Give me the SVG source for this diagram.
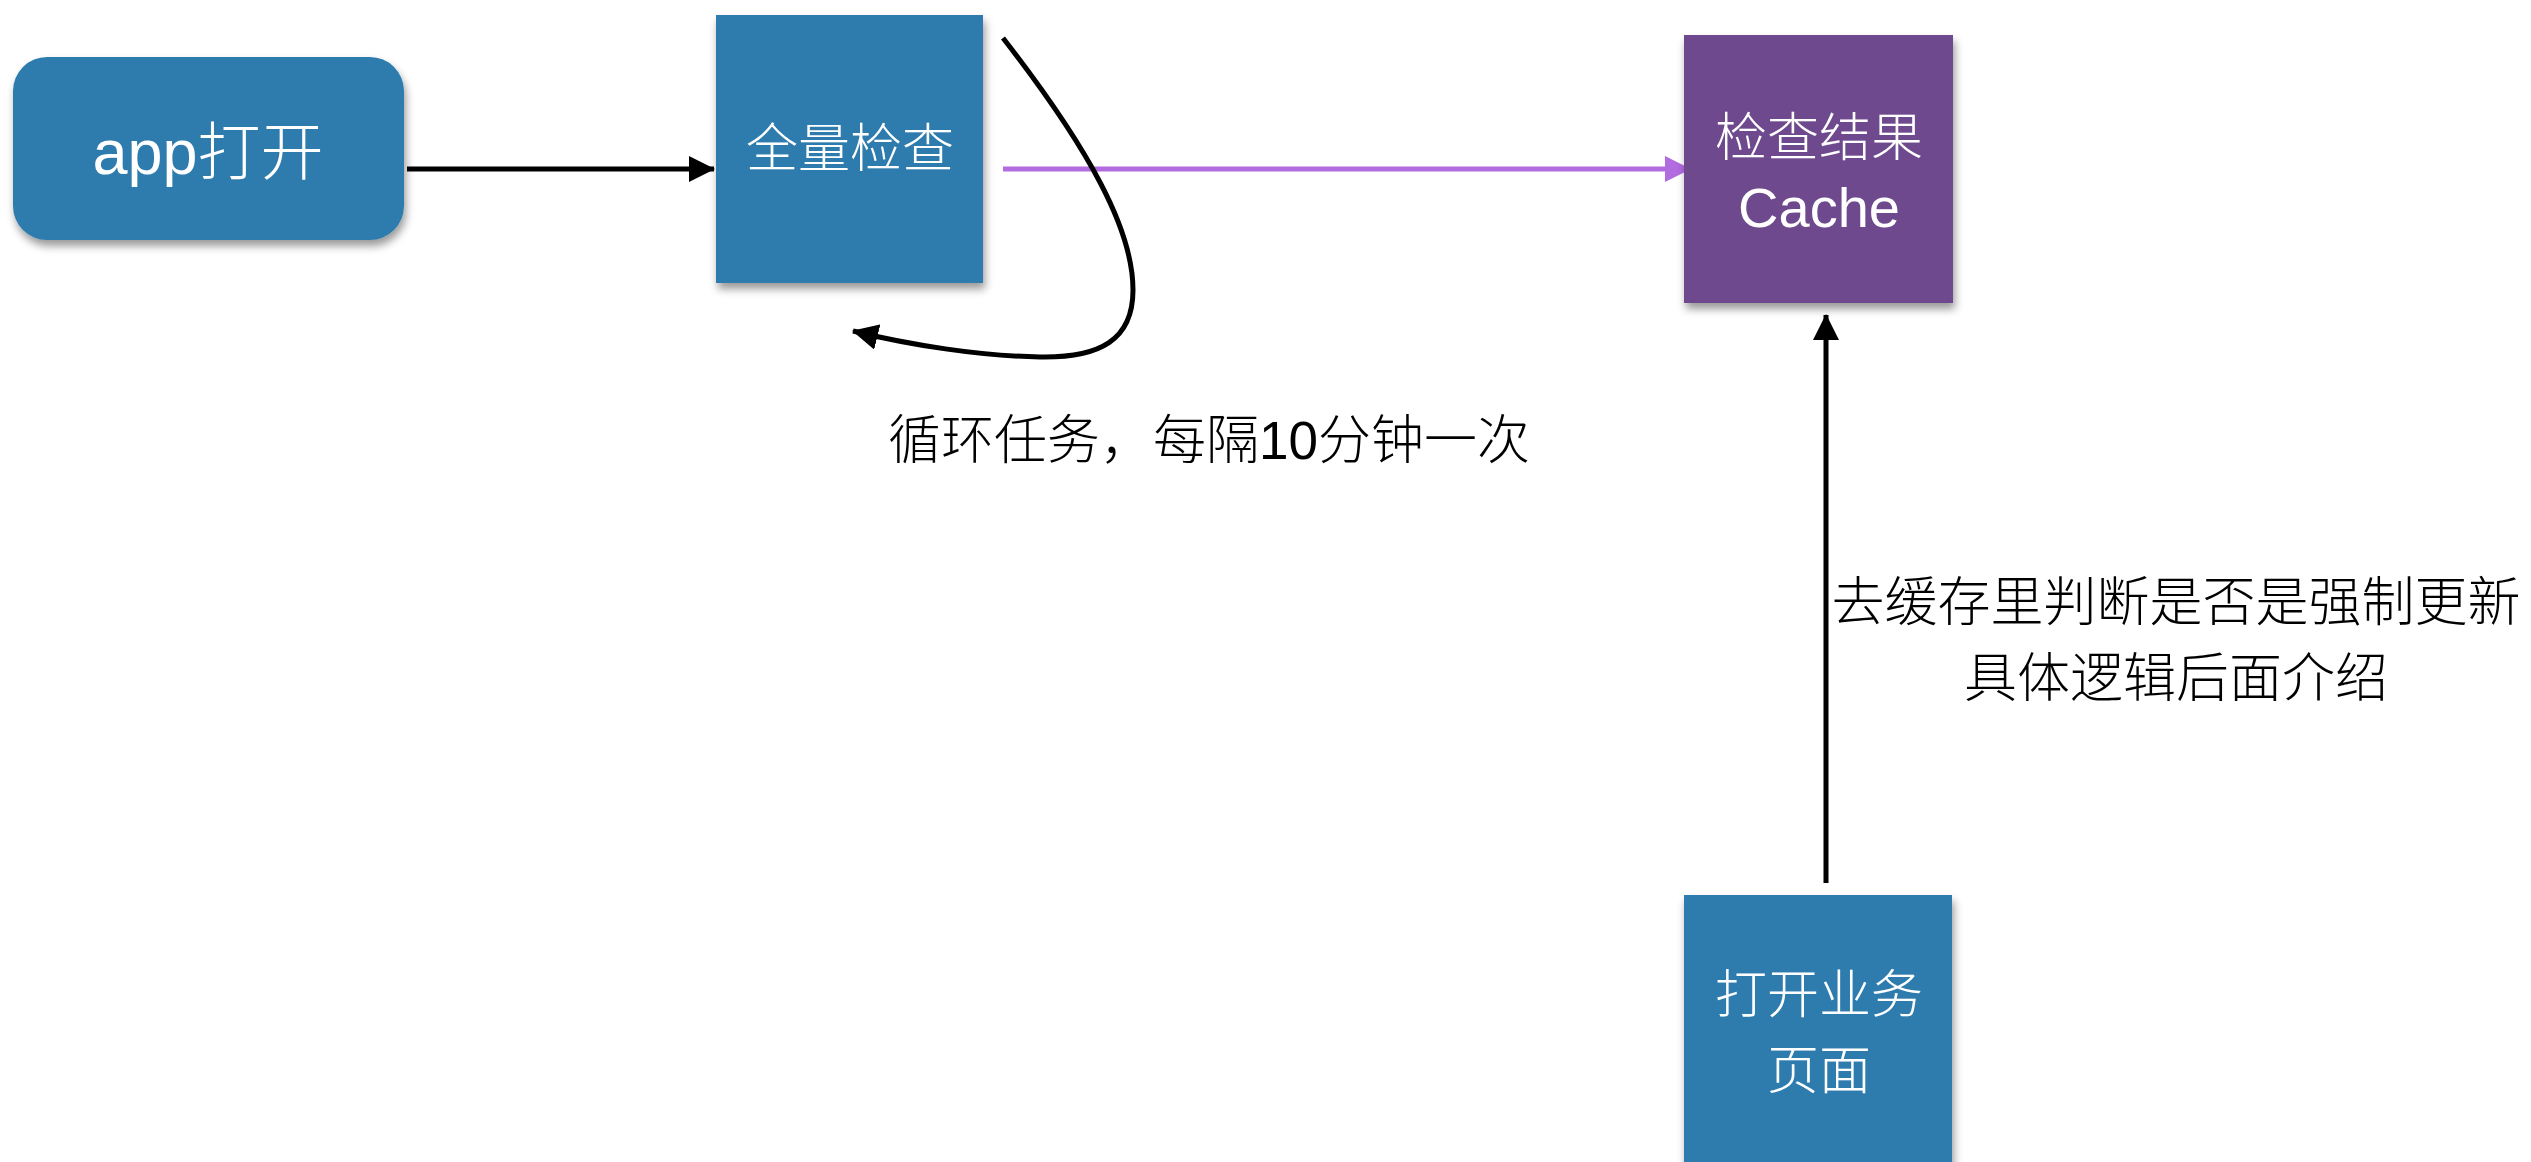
<svg xmlns="http://www.w3.org/2000/svg" width="2531" height="1162" viewBox="0 0 2531 1162">
  <style>
    .node-blue { fill: #2E7CAE; }
    .node-purple { fill: #6E4A8D; }
    .ntext { fill: #FFFFFF; font-family: "Noto Sans CJK SC", "Noto Sans", sans-serif; font-size: 52px; font-weight: 300; text-anchor: middle; }
    .latin { font-family: "Liberation Sans", "Noto Sans CJK SC", sans-serif; }
    .label { fill: #000000; font-family: "Noto Sans CJK SC", "Noto Sans", sans-serif; font-size: 53px; font-weight: 300; }
    .big { font-size: 63px; }
    .cache { font-size: 56px; }
    .conn { fill: none; stroke: #000000; stroke-width: 5; }
    .conn-purple { fill: none; stroke: #B36BE0; stroke-width: 5; }
  </style>
  <defs>
    <filter id="shadow" x="-10%" y="-10%" width="125%" height="125%">
      <feDropShadow dx="2" dy="6" stdDeviation="4" flood-color="#000000" flood-opacity="0.4"/>
    </filter>
    <marker id="arrow" markerUnits="userSpaceOnUse" markerWidth="26" markerHeight="26" viewBox="0 0 26 26" refX="25" refY="13" orient="auto">
      <path d="M0,0 L26,13 L0,26 Z" fill="#000000"/>
    </marker>
    <marker id="arrow-purple" markerUnits="userSpaceOnUse" markerWidth="26" markerHeight="26" viewBox="0 0 26 26" refX="25" refY="13" orient="auto">
      <path d="M0,0 L26,13 L0,26 Z" fill="#B36BE0"/>
    </marker>
  </defs>

  <g id="connectors">
    <path class="conn" d="M407,169 L714,169" marker-end="url(#arrow)"/>
    <path class="conn-purple" d="M1003,169 L1690,169" marker-end="url(#arrow-purple)"/>
    <path class="conn" d="M1003,38 C1090,150 1133,230 1133,290 C1133,340 1100,358 1040,357 C980,356 910,345 853,331" marker-end="url(#arrow)"/>
    <path class="conn" d="M1826,883 L1826,315" marker-end="url(#arrow)"/>
  </g>

  <g id="node-app-open">
    <rect class="node-blue" x="13" y="57" width="391" height="183" rx="34" ry="34" filter="url(#shadow)"/>
    <text class="ntext big" x="208" y="174"><tspan class="latin">app</tspan>打开</text>
  </g>

  <g id="node-full-check">
    <rect class="node-blue" x="716" y="15" width="267" height="268" filter="url(#shadow)"/>
    <text class="ntext" x="850" y="167">全量检查</text>
  </g>

  <g id="node-cache">
    <rect class="node-purple" x="1684" y="35" width="269" height="268" filter="url(#shadow)"/>
    <text class="ntext" x="1819" y="156">检查结果</text>
    <text class="ntext latin cache" x="1819" y="227">Cache</text>
  </g>

  <g id="node-open-page">
    <rect class="node-blue" x="1684" y="895" width="268" height="280" filter="url(#shadow)"/>
    <text class="ntext" x="1819" y="1013">打开业务</text>
    <text class="ntext" x="1819" y="1089">页面</text>
  </g>

  <g id="labels">
    <text class="label" x="888" y="459">循环任务，每隔<tspan class="latin">10</tspan>分钟一次</text>
    <text class="label" x="2176" y="621" text-anchor="middle">去缓存里判断是否是强制更新</text>
    <text class="label" x="2176" y="697" text-anchor="middle">具体逻辑后面介绍</text>
  </g>
</svg>
